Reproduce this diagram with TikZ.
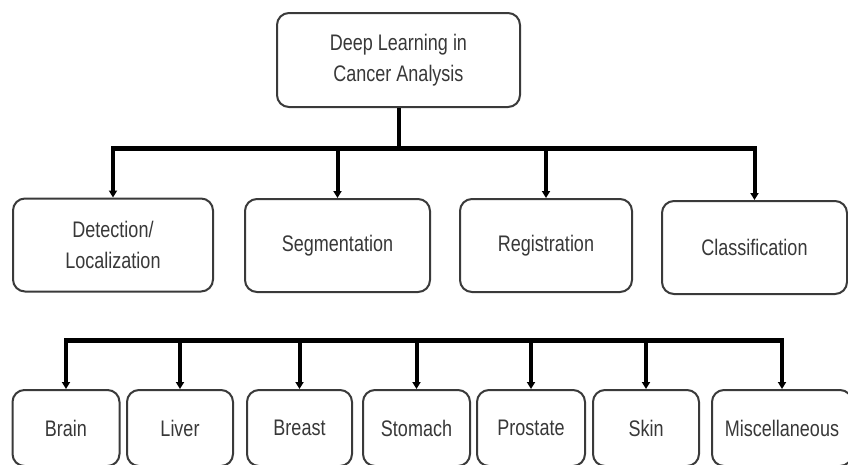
\documentclass[tikz,border=0pt]{standalone}
\usepackage{fontspec}
\setmainfont{Liberation Sans}[FakeStretch=0.8]
\usetikzlibrary{arrows.meta}
\definecolor{boxline}{HTML}{3A3A3A}
\definecolor{txt}{HTML}{383838}
\tikzset{
  box/.style={draw=boxline, line width=2pt, rounded corners=12pt, fill=white,
    text=txt, align=center, font=\fontsize{22.5}{31}\selectfont, inner sep=0pt},
  conn/.style={line width=4pt, black},
  bar/.style={line width=5pt, black},
  arr/.style={line width=4pt, black, -{Triangle[length=7pt,width=8pt]}},
}
\begin{document}
\begin{tikzpicture}[x=1pt,y=-1pt]
\useasboundingbox (0,0) rectangle (848,464);
\clip (0,0) rectangle (848,464);
\fill[white] (0,0) rectangle (848,464);
% top
\node[box, minimum width=243pt, minimum height=94pt] (top) at (398.5,60) {Deep Learning in\\Cancer Analysis};
% second row
\node[box, minimum width=200pt, minimum height=93pt] (det) at (113,245) {Detection/\\Localization};
\node[box, minimum width=185pt, minimum height=93pt] (seg) at (337.5,245.5) {Segmentation};
\node[box, minimum width=172pt, minimum height=93pt] (reg) at (546,245.5) {Registration};
\node[box, minimum width=185pt, minimum height=93pt] (cls) at (754.5,247.5) {Classification};
% bottom row
\node[box, minimum width=107pt, minimum height=76pt] (brain) at (66,428) {Brain};
\node[box, minimum width=106pt, minimum height=76pt] (liver) at (180,428) {Liver};
\node[box, minimum width=105pt, minimum height=76pt] (breast) at (299.5,428) {Breast};
\node[box, minimum width=107pt, minimum height=76pt] (stomach) at (416.5,428) {Stomach};
\node[box, minimum width=108pt, minimum height=76pt] (prostate) at (531,428) {Prostate};
\node[box, minimum width=106pt, minimum height=76pt] (skin) at (646,428) {Skin};
\node[box, minimum width=140pt, minimum height=76pt] (misc) at (782,428) {Miscellaneous};
% connectors upper
\coordinate (barA) at (0,148);
\draw[conn] (top.south) -- (top.south |- barA);
\draw[bar] ([xshift=-2pt]det.north |- barA) -- ([xshift=2pt]cls.north |- barA);
\foreach \n in {det,seg,reg,cls}
  \draw[arr] (\n.north |- barA) -- (\n.north);
% connectors lower
\coordinate (barB) at (0,340);
\draw[bar] ([xshift=-2pt]brain.north |- barB) -- ([xshift=2pt]misc.north |- barB);
\foreach \n in {brain,liver,breast,stomach,prostate,skin,misc}
  \draw[arr] (\n.north |- barB) -- (\n.north);
\end{tikzpicture}
\end{document}
